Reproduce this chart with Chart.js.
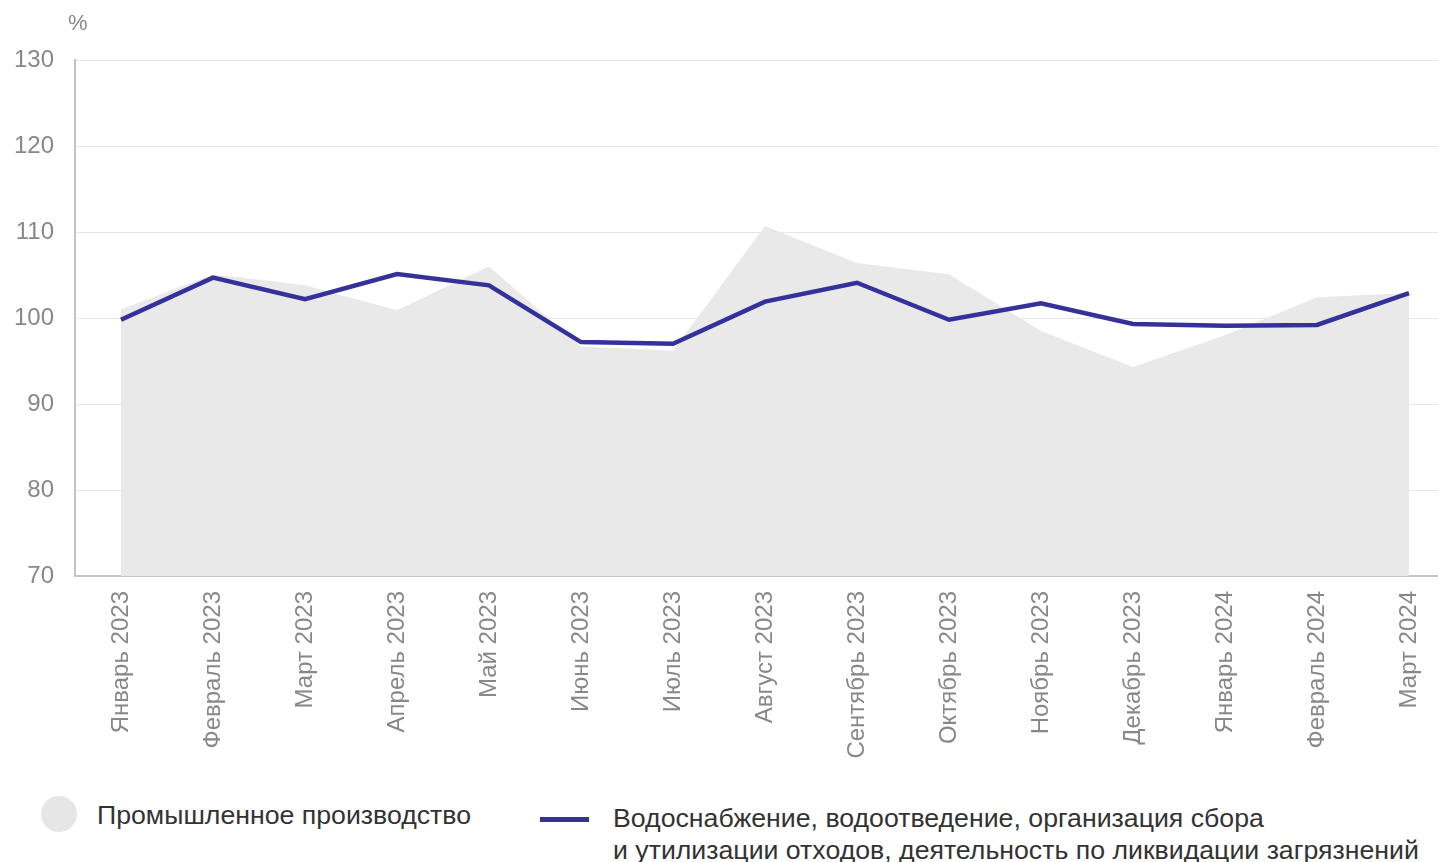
<!DOCTYPE html>
<html lang="ru">
<head>
<meta charset="utf-8">
<script src="https://cdn.jsdelivr.net/npm/chart.js@4.4.1/dist/chart.umd.min.js"></script>
<style>
  html, body { margin: 0; padding: 0; background: #fff; overflow: hidden; width: 1438px; height: 862px; }
  body { position: relative; font-family: "Liberation Sans", Arial, sans-serif; }
  #wrap { position: absolute; left: 0; top: 0; width: 1455px; height: 780px; }
  #unit { position: absolute; left: 68px; top: 10px; font-size: 22px; color: #888; }
  .leg { position: absolute; color: #333; font-size: 26.7px; line-height: 32px; }
  #dot { position: absolute; left: 41px; top: 796px; width: 36px; height: 36px; border-radius: 50%; background: #e6e6e6; }
  #dash { position: absolute; left: 540px; top: 817px; width: 49px; height: 5px; background: #35319a; }
</style>
</head>
<body>
<div id="wrap"><canvas id="c"></canvas></div>
<div id="unit">%</div>
<div id="dot"></div>
<div class="leg" style="left:97px; top:799px;">Промышленное производство</div>
<div id="dash"></div>
<div class="leg" style="left:613px; top:802px;">Водоснабжение, водоотведение, организация сбора<br>и утилизации отходов, деятельность по ликвидации загрязнений</div>
<script>
const categories = ["Январь 2023","Февраль 2023","Март 2023","Апрель 2023","Май 2023","Июнь 2023","Июль 2023","Август 2023","Сентябрь 2023","Октябрь 2023","Ноябрь 2023","Декабрь 2023","Январь 2024","Февраль 2024","Март 2024"];
const industrialProduction = [101.0, 105.1, 103.8, 100.9, 106.0, 96.7, 96.2, 110.7, 106.4, 105.1, 98.5, 94.3, 98.0, 102.4, 102.9];
const waterSupply = [99.8, 104.7, 102.2, 105.1, 103.8, 97.2, 97.0, 101.9, 104.1, 99.8, 101.7, 99.3, 99.1, 99.2, 102.9];
const yTicks = [70, 80, 90, 100, 110, 120, 130];

new Chart(document.getElementById('c'), {
  type: 'line',
  data: {
    labels: categories,
    datasets: [
      {
        label: 'Водоснабжение',
        data: waterSupply,
        borderColor: '#35319a',
        borderWidth: 4.5,
        pointRadius: 0,
        fill: false,
        tension: 0,
        order: 0
      },
      {
        label: 'Промышленное производство',
        data: industrialProduction,
        borderWidth: 0,
        borderColor: 'rgba(0,0,0,0)',
        backgroundColor: '#e9e9e9',
        pointRadius: 0,
        fill: 'start',
        tension: 0,
        order: 1
      }
    ]
  },
  options: {
    responsive: true,
    maintainAspectRatio: false,
    animation: false,
    layout: { padding: { top: 60, right: 0, left: 0, bottom: 0 } },
    plugins: { legend: { display: false }, tooltip: { enabled: false } },
    scales: {
      x: {
        offset: true,
        grid: { display: false },
        border: { display: true, color: '#c4c4c4', width: 2 },
        ticks: {
          minRotation: 90, maxRotation: 90, padding: 7,
          color: '#888', font: { family: '"Liberation Sans", Arial, sans-serif', size: 24 }
        },
        afterFit: s => { s.height = 204; }
      },
      y: {
        min: 70, max: 130,
        afterBuildTicks: s => { s.ticks = yTicks.map(v => ({ value: v })); },
        grid: { color: '#e6e6e6', lineWidth: 1, drawTicks: false },
        border: { display: true, color: '#c4c4c4', width: 2 },
        ticks: {
          padding: 21, color: '#888',
          font: { family: '"Liberation Sans", Arial, sans-serif', size: 24 }
        },
        afterFit: s => { s.width = 75; }
      }
    }
  }
});
</script>
</body>
</html>
